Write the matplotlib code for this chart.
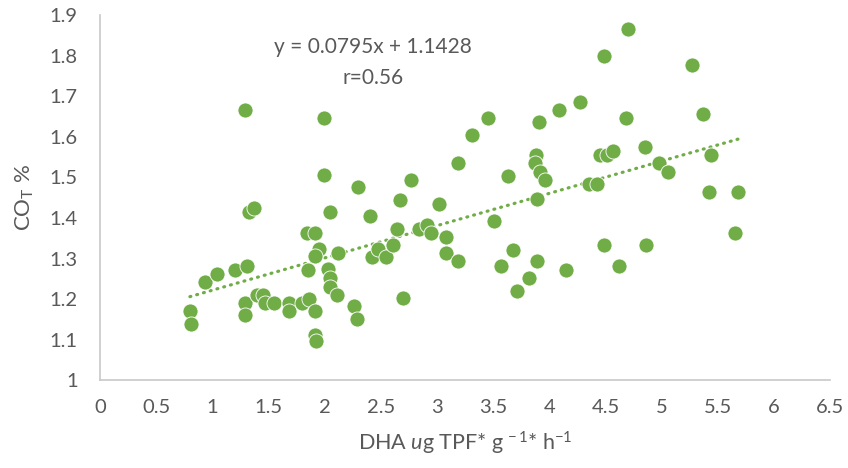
import matplotlib
matplotlib.use("Agg")
import matplotlib.pyplot as plt
import numpy as np

# Data
dha = [0.80, 0.81, 0.93, 1.04, 1.20, 1.31, 1.33, 1.37, 1.29, 1.29, 1.40, 1.45,
       1.47, 1.55, 1.68, 1.68, 1.80, 1.86, 1.91, 1.91, 1.92, 1.84, 1.91, 1.95,
       1.91, 1.85, 2.05, 2.03, 2.05, 2.05, 2.11, 2.12, 2.26, 2.29, 2.40, 2.30,
       2.67, 3.02, 2.42, 2.47, 2.55, 2.61, 2.64, 2.70, 2.84, 2.91, 2.95, 3.08,
       3.08, 3.19, 1.29, 1.99, 1.99, 2.77, 3.19, 4.70, 4.49, 5.27, 5.37,
       4.27, 4.09, 3.91, 4.68, 3.45, 3.31, 4.85, 4.45, 4.51, 4.57, 3.88, 3.87,
       3.92, 3.96, 3.63, 4.98, 5.06, 5.44, 4.35, 4.42, 5.42, 5.68, 3.89, 3.51,
       3.68, 3.57, 3.89, 3.82, 3.71, 4.15, 4.49, 4.62, 4.86, 5.65]
cot = [1.172, 1.140, 1.243, 1.262, 1.272, 1.282, 1.415, 1.425, 1.192, 1.161, 1.211, 1.211,
       1.192, 1.192, 1.192, 1.170, 1.192, 1.201, 1.170, 1.111, 1.098, 1.363, 1.363, 1.323,
       1.307, 1.272, 1.415, 1.274, 1.252, 1.231, 1.211, 1.313, 1.183, 1.151, 1.405, 1.476,
       1.445, 1.435, 1.303, 1.323, 1.303, 1.334, 1.374, 1.203, 1.374, 1.384, 1.364, 1.354,
       1.313, 1.293, 1.666, 1.647, 1.505, 1.494, 1.535, 1.866, 1.798, 1.778, 1.656,
       1.686, 1.666, 1.636, 1.647, 1.647, 1.605, 1.575, 1.555, 1.555, 1.565, 1.555, 1.535,
       1.514, 1.494, 1.504, 1.535, 1.514, 1.555, 1.484, 1.484, 1.464, 1.464, 1.446, 1.393,
       1.321, 1.283, 1.293, 1.253, 1.221, 1.272, 1.334, 1.282, 1.334, 1.363]
slope, intercept = 0.0795, 1.1428
x_ticks = [0, 0.5, 1, 1.5, 2, 2.5, 3, 3.5, 4, 4.5, 5, 5.5, 6, 6.5]
y_ticks = [1, 1.1, 1.2, 1.3, 1.4, 1.5, 1.6, 1.7, 1.8, 1.9]

plt.rcParams['font.family'] = ['Lato', 'DejaVu Sans']
plt.rcParams['mathtext.fontset'] = 'custom'
plt.rcParams['mathtext.rm'] = 'Lato'
plt.rcParams['mathtext.it'] = 'Lato:italic'

green = '#70AD47'
text_col = '#595959'

fig = plt.figure(figsize=(8.48, 4.68), dpi=100)
ax = fig.add_axes([0.118, 0.187, 0.861, 0.781])

ax.scatter(dha, cot, s=118, color=green, edgecolors='white', linewidths=0.6, zorder=3)

xl = np.array([min(dha), max(dha)])
ax.plot(xl, slope * xl + intercept, color=green, lw=2.3, linestyle=(0, (0.3, 1.9)),
        dash_capstyle='round', zorder=2)

ax.set_xlim(0, 6.5)
ax.set_ylim(1, 1.9)
ax.set_xticks(x_ticks)
ax.set_xticklabels([f"{t:g}" for t in x_ticks])
ax.set_yticks(y_ticks)
ax.set_yticklabels([f"{t:g}" for t in y_ticks])
ax.tick_params(length=0, labelsize=14.5, colors=text_col)
ax.tick_params(axis='x', pad=13)
ax.tick_params(axis='y', pad=16)

for s in ['top', 'right']:
    ax.spines[s].set_visible(False)
for s in ['left', 'bottom']:
    ax.spines[s].set_color('#C8C8C8')
    ax.spines[s].set_linewidth(1.2)

ax.text(2.43, 1.821, f"y = {slope}x + {intercept}", ha='center', va='center',
        fontsize=15, color=text_col)
ax.text(2.43, 1.745, "r=0.56", ha='center', va='center', fontsize=15, color=text_col)

ax.set_xlabel(r"DHA $\mathit{u}$g TPF* g$^{\,-1}$* h$^{-1}$", fontsize=15.5, color=text_col, labelpad=10)
ax.set_ylabel(r"CO$_{\mathrm{T}}$ %", fontsize=16, color=text_col, labelpad=10)

fig.savefig("out.png", dpi=100)
